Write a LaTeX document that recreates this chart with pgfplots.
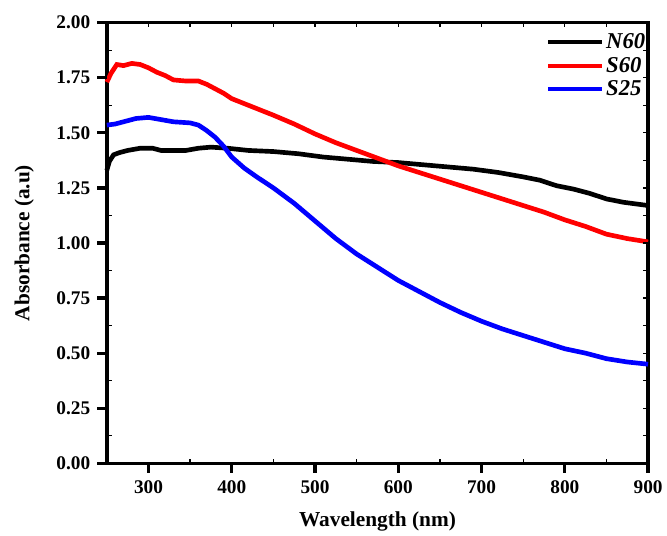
\documentclass[border=0pt]{standalone}
\usepackage{fontspec}
\setmainfont{Liberation Serif}
\usepackage{pgfplots}
\pgfplotsset{compat=1.18}
\begin{document}
\begin{tikzpicture}
\begin{axis}[
  scale only axis,
  width=406.5pt, height=331pt,
  xmin=250, xmax=900, ymin=0, ymax=2,
  clip=false,
  xtick={300,400,500,600,700,800,900},
  ytick={0,0.25,0.5,0.75,1,1.25,1.5,1.75,2},
  major tick length=0pt,
  xtick pos=bottom, ytick pos=left,
  axis line style={line width=2.5pt},
  /pgf/number format/assume math mode=true,
  ticklabel style={font=\fontsize{14.5}{16}\selectfont\bfseries},
  xticklabel style={/pgf/number format/1000 sep={}, yshift=-9.5pt},
  yticklabel style={/pgf/number format/.cd,fixed,fixed zerofill,precision=2, /tikz/.cd, xshift=-9pt},
  xlabel={Wavelength (nm)},
  ylabel={Absorbance (a.u)},
  xlabel style={yshift=-6.5pt},
  ylabel style={yshift=10pt},
  label style={font=\fontsize{16}{18}\selectfont\bfseries},
  legend style={at={(1,1)}, anchor=north east, draw=none, fill=none,
    font=\fontsize{17}{19}\selectfont\bfseries\itshape, row sep=1pt,
    inner xsep=0pt, inner ysep=6pt},
  legend cell align=left,
  legend image code/.code={\draw[#1, line width=3pt] (0pt,0pt) -- (40pt,0pt);},
  every axis plot/.append style={line width=3.5pt},
]
\addplot[black] coordinates {
(250,1.33)(253,1.37)(258,1.40)(265,1.41)(275,1.42)(290,1.43)(305,1.43)(315,1.42)(330,1.42)(345,1.42)(360,1.43)(375,1.435)(395,1.43)(420,1.42)(450,1.415)(480,1.405)(510,1.39)(540,1.38)(570,1.37)(600,1.365)(630,1.355)(660,1.345)(690,1.335)(720,1.32)(750,1.30)(770,1.285)(790,1.26)(810,1.245)(830,1.225)(850,1.20)(870,1.185)(890,1.175)(900,1.17)
};
\addlegendentry{N60}
\addplot[red] coordinates {
(250,1.73)(255,1.77)(262,1.81)(270,1.805)(280,1.815)(290,1.81)(300,1.795)(310,1.775)(320,1.76)(330,1.74)(345,1.735)(360,1.735)(370,1.72)(380,1.70)(390,1.68)(400,1.655)(420,1.625)(450,1.58)(475,1.54)(500,1.495)(525,1.455)(550,1.42)(575,1.385)(600,1.35)(625,1.32)(650,1.29)(675,1.26)(700,1.23)(725,1.20)(750,1.17)(775,1.14)(800,1.105)(825,1.075)(850,1.04)(875,1.02)(900,1.005)
};
\addlegendentry{S60}
\addplot[blue] coordinates {
(250,1.535)(260,1.54)(270,1.55)(285,1.565)(300,1.57)(315,1.56)(330,1.55)(350,1.545)(360,1.535)(370,1.51)(380,1.48)(390,1.44)(400,1.39)(415,1.34)(430,1.30)(450,1.25)(475,1.18)(500,1.10)(525,1.02)(550,0.95)(575,0.89)(600,0.83)(625,0.78)(650,0.73)(675,0.685)(700,0.645)(725,0.61)(750,0.58)(775,0.55)(800,0.52)(825,0.50)(850,0.475)(875,0.46)(900,0.45)
};
\addlegendentry{S25}
\pgfplotsinvokeforeach{300,400,500,600,700,800,900}{
  \draw[line width=2.5pt] (axis cs:#1,0) -- (axis cs:#1,-0.045);}
\pgfplotsinvokeforeach{0,0.25,0.5,0.75,1,1.25,1.5,1.75,2}{
  \draw[line width=2.5pt] (axis cs:250,#1) -- (axis cs:238.5,#1);}
\pgfplotsinvokeforeach{350,450,550,650,750,850}{
  \draw[line width=1pt] (axis cs:#1,0) -- (axis cs:#1,0.022);}
\pgfplotsinvokeforeach{0.125,0.375,0.625,0.875,1.125,1.375,1.625,1.875}{
  \draw[line width=1pt] (axis cs:250,#1) -- (axis cs:256,#1);}
\pgfplotsinvokeforeach{0.125,0.25,0.375,0.5,0.625,0.75,0.875,1,1.125,1.25,1.375,1.5,1.625,1.75,1.875}{
  \draw[line width=1pt] (axis cs:900,#1) -- (axis cs:894,#1);}
\pgfplotsinvokeforeach{300,350,400,450,500,550,600,650,700,750,800,850}{
  \draw[line width=1pt] (axis cs:#1,2) -- (axis cs:#1,1.978);}
\end{axis}
\path (current axis.south west) ++(-80.25pt,-52.5pt) coordinate (bbsw);
\path (current axis.north east) ++(13.5pt,17pt) coordinate (bbne);
\useasboundingbox (bbsw) rectangle (bbne);
\end{tikzpicture}
\end{document}
